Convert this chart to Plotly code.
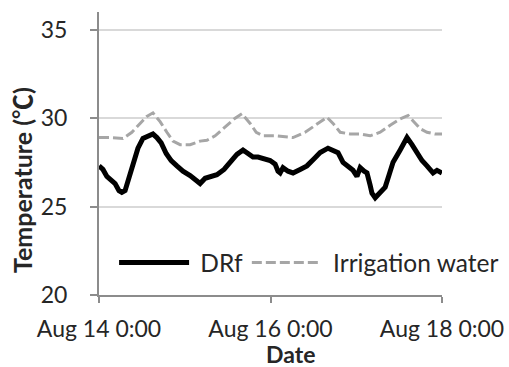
import pandas as pd
import plotly.graph_objects as go

# Hours elapsed since Aug 14 0:00 and temperatures (°C)
drf_hours = [0, 1.1, 2.2, 3.4, 4.5, 5.6, 6.4, 7.3, 8.4, 9.5, 10.9, 12.3, 13.7, 15.1, 16.2,
             17.4, 18.8, 20.2, 21.8, 23.5, 25.5, 27.2, 28.3, 29.7, 31.4, 33.0, 35.0, 36.7,
             38.6, 40.3, 41.7, 43.1, 44.5, 45.9, 47.9, 49.3, 50.1, 50.7, 51.5, 52.9, 54.3,
             56.3, 58.2, 60.2, 61.9, 64.1, 65.5, 66.9, 68.3, 69.7, 71.1, 72.2, 73.1, 74.2,
             75.0, 75.9, 76.4, 77.3, 78.4, 80.1, 81.2, 82.3, 84.3, 86.2, 87.6, 89.0, 90.4,
             91.8, 93.5, 94.6, 96.0]
drf_temp = [27.3, 27.1, 26.7, 26.5, 26.3, 25.9, 25.8, 25.9, 26.6, 27.4, 28.3, 28.85, 29.0,
            29.1, 28.9, 28.6, 28.0, 27.6, 27.3, 27.0, 26.75, 26.45, 26.3, 26.6, 26.7, 26.8,
            27.1, 27.5, 27.95, 28.2, 28.0, 27.8, 27.8, 27.7, 27.6, 27.4, 27.0, 26.9, 27.2,
            27.0, 26.9, 27.1, 27.3, 27.7, 28.05, 28.3, 28.2, 28.05, 27.5, 27.3, 27.05, 26.7,
            27.2, 27.0, 26.9, 26.2, 25.75, 25.5, 25.7, 26.1, 26.8, 27.5, 28.2, 28.9, 28.5,
            28.0, 27.6, 27.3, 26.9, 27.05, 26.9]

water_hours = [0, 3.1, 6.7, 9.2, 11.5, 13.4, 15.1, 17.1, 19.0, 20.7, 22.7, 25.5, 28.3, 30.2,
               32.5, 35.3, 38.1, 40.0, 42.3, 44.0, 45.9, 49.3, 52.1, 54.3, 57.7, 60.5, 63.8,
               65.5, 67.5, 70.3, 73.1, 75.9, 78.7, 81.5, 84.3, 86.5, 88.2, 89.9, 91.8, 94.1,
               96.0]
water_temp = [28.9, 28.9, 28.85, 29.2, 29.7, 30.1, 30.3, 29.8, 29.2, 28.7, 28.5, 28.5, 28.7,
              28.75, 29.0, 29.5, 30.0, 30.25, 29.7, 29.2, 29.0, 29.0, 28.95, 28.9, 29.2, 29.6,
              30.05, 29.7, 29.2, 29.1, 29.1, 29.0, 29.2, 29.6, 29.95, 30.15, 29.8, 29.4, 29.2,
              29.1, 29.1]

x_ticks = ["2013-08-14", "2013-08-16", "2013-08-18"]
x_tick_labels = ["Aug 14 0:00", "Aug 16 0:00", "Aug 18 0:00"]
y_ticks = [20, 25, 30, 35]

start = pd.Timestamp("2013-08-14 00:00")
drf_time = [start + pd.Timedelta(hours=h) for h in drf_hours]
water_time = [start + pd.Timedelta(hours=h) for h in water_hours]

FONT = "Lato"
TXT = "#262626"
PAD = "\u00a0"  # small gap between legend symbol and its label

fig = go.Figure()
fig.add_trace(go.Scatter(x=drf_time, y=drf_temp, name=PAD + "DRf", mode="lines",
                         line=dict(color="#000000", width=5), legend="legend"))
fig.add_trace(go.Scatter(x=water_time, y=water_temp, name=PAD + "Irrigation water",
                         mode="lines", line=dict(color="#a6a6a6", width=3, dash="10px,4px"),
                         legend="legend2"))

legend_common = dict(orientation="h", y=0.115, xanchor="left", yanchor="middle",
                     bgcolor="rgba(0,0,0,0)", font=dict(size=24.5, color=TXT), itemwidth=70)

fig.update_layout(
    width=509, height=367,
    margin=dict(l=99, r=67, t=12, b=72, autoexpand=False),
    plot_bgcolor="white", paper_bgcolor="white",
    font=dict(family=FONT, size=23, color=TXT),
    showlegend=True,
    legend=dict(x=0.044, **legend_common),
    legend2=dict(x=0.431, **legend_common),
)
fig.update_xaxes(
    range=[start, start + pd.Timedelta(hours=96)],
    tickmode="array", tickvals=x_ticks, ticktext=x_tick_labels, tickangle=0,
    showgrid=False, zeroline=False, automargin=False,
    showline=True, linecolor="#8c8c8c", linewidth=2,
    ticks="outside", ticklen=6, tickwidth=2, tickcolor="#8c8c8c",
    tickfont=dict(size=23), ticklabelstandoff=6,
)
fig.update_yaxes(
    range=[20, 36], tickmode="array", tickvals=y_ticks,
    showgrid=True, gridcolor="#d9d9d9", gridwidth=1.5, zeroline=False, automargin=False,
    showline=True, linecolor="#8c8c8c", linewidth=2,
    ticks="outside", ticklen=7, tickwidth=2, tickcolor="#8c8c8c",
    tickfont=dict(size=23), ticklabelstandoff=18,
)

# Axis titles
fig.add_annotation(text="<b>Date</b>", xref="paper", yref="paper", x=0.557, y=-0.2085,
                   xanchor="center", yanchor="middle", showarrow=False,
                   font=dict(size=23, color=TXT))
fig.add_annotation(
    text="<b>Temperature (<span style='font-family:Noto Sans CJK JP'>\u2103</span>)</b>",
    xref="paper", yref="paper", x=-0.2275, y=0.406, textangle=-90,
    xanchor="center", yanchor="middle", showarrow=False,
    font=dict(size=25, color=TXT))

fig.write_html("out.html")
